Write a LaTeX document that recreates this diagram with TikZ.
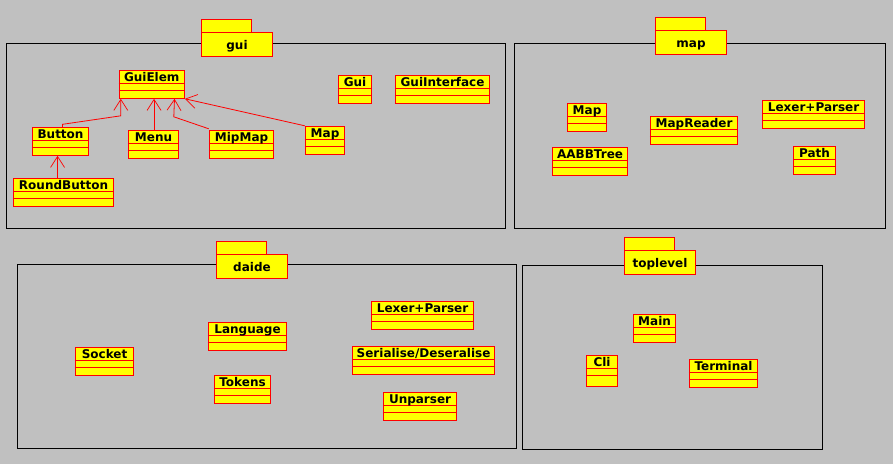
\documentclass[tikz,border=0pt]{standalone}
\usepackage{fontspec}
\setmainfont{DejaVu Sans}
\usetikzlibrary{arrows.meta}
\definecolor{bg}{HTML}{C0C0C0}
\definecolor{uyellow}{HTML}{FFFF00}
\definecolor{ured}{HTML}{FF0000}
\tikzset{
  clsbox/.style={draw=ured, fill=uyellow, line width=1pt, inner sep=0pt, minimum height=28pt, rectangle},
  clsline/.style={draw=ured, line width=1pt},
  clstext/.style={font=\fontsize{12}{14}\selectfont\bfseries, inner sep=0pt, text=black},
  frame/.style={draw=black, line width=1pt},
  tabbox/.style={draw=ured, fill=uyellow, line width=1pt},
  inh/.style={draw=ured, line width=0.8pt, -{Straight Barb[length=11pt,width=14pt,line width=0.7pt]}},
}
\newcommand\umlclass[6][28]{%
  \node[clsbox, minimum width=#5pt, minimum height=#1pt, anchor=north west] (#2) at (#3,#4) {};
  \draw[clsline] ([yshift=-14pt]#2.north west) -- ([yshift=-14pt]#2.north east);
  \draw[clsline] ([yshift=-21pt]#2.north west) -- ([yshift=-21pt]#2.north east);
  \node[clstext, anchor=base] (#2-label) at ([yshift=-11.3pt]#2.north) {#6};
}
\newcommand\umlpkg[4]{%
  \draw[tabbox] (#2,#3-13) rectangle (#2+50,#3);
  \draw[tabbox] (#2,#3) rectangle (#2+70.4,#3+24);
  \node[clstext, anchor=base] (#1) at (#2+35.2,#3+17) {#4};
}
\begin{document}
\begin{tikzpicture}[x=1pt,y=-1pt]
\fill[bg] (0,0) rectangle (893,464);
\useasboundingbox (0,0) rectangle (893,464);
% frames
\draw[frame] (6.8,43.8) rectangle (505.2,228.2);
\draw[frame] (514.8,43.8) rectangle (885.2,228.8);
\draw[frame] (17.8,264.8) rectangle (516.2,448.8);
\draw[frame] (522.8,265.8) rectangle (822.2,449.8);
% package tabs
\umlpkg{pgui}{201.8}{32.8}{gui}
\umlpkg{pmap}{655.8}{30.8}{map}
\umlpkg{pdaide}{216.8}{254.8}{daide}
\umlpkg{ptop}{624.8}{250.8}{toplevel}
% gui
\umlclass{GuiElem}{118.5}{69.8}{65.5}{GuiElem}
\umlclass{Button}{31.8}{126.8}{56.5}{Button}
\umlclass{Menu}{127.8}{129.8}{50.5}{Menu}
\umlclass{MipMap}{208.8}{129.8}{64.5}{MipMap}
\umlclass{guiMap}{304.8}{125.8}{39.5}{Map}
\umlclass{RoundButton}{12.8}{177.8}{100.5}{RoundButton}
\umlclass{Gui}{337.8}{74.8}{33.5}{Gui}
\umlclass{GuiInterface}{394.8}{74.8}{94.5}{GuiInterface}
% map
\umlclass{mapMap}{566.8}{102.8}{39.5}{Map}
\umlclass{MapReader}{649.8}{115.8}{87.5}{MapReader}
\umlclass{mapLexer}{761.8}{99.8}{102.5}{Lexer+Parser}
\umlclass{AABBTree}{551.8}{146.8}{75.5}{AABBTree}
\umlclass{Path}{792.8}{145.8}{42.5}{Path}
% daide
\umlclass{Language}{207.8}{321.8}{78.5}{Language}
\umlclass{Socket}{74.8}{346.8}{58.5}{Socket}
\umlclass{Tokens}{213.8}{374.8}{56.5}{Tokens}
\umlclass{daideLexer}{370.8}{300.8}{102.5}{Lexer+Parser}
\umlclass{Serialise}{351.8}{345.8}{142.5}{Serialise/Deseralise}
\umlclass{Unparser}{382.8}{391.8}{73.5}{Unparser}
% toplevel
\umlclass{Main}{632.8}{313.8}{42.5}{Main}
\umlclass[31.5]{Cli}{585.8}{354.8}{31.5}{Cli}
\umlclass{Terminal}{688.8}{358.8}{68.5}{Terminal}
% inheritance
\draw[inh] ([xshift=2pt]Button.north) -- ++(0,-2.5) -- (120.8,115.8) -- ([xshift=2.3pt]GuiElem.south west);
\draw[inh] ([xshift=0.5pt]Menu.north) -- ([xshift=0.5pt]Menu.north |- GuiElem.south);
\draw[inh] ([yshift=1pt]MipMap.north west) -- (173.8,116.8) -- ([xshift=-10.5pt]GuiElem.south east);
\draw[inh] (guiMap.north west) -- (GuiElem.south east);
\draw[inh] ([xshift=-6pt]RoundButton.north) -- ([xshift=-6pt]RoundButton.north |- Button.south);
\end{tikzpicture}
\end{document}
